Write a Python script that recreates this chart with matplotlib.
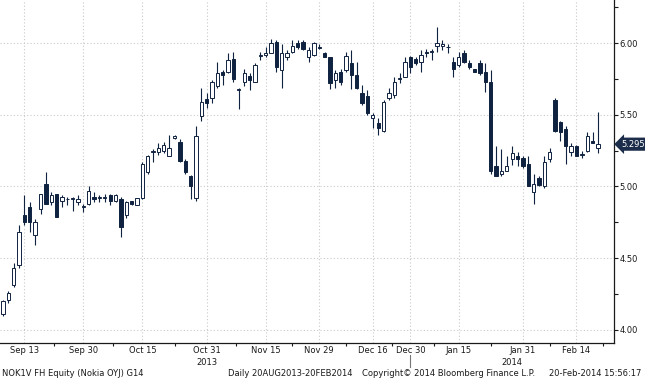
import matplotlib
matplotlib.use("Agg")
import matplotlib.pyplot as plt
import matplotlib.transforms as mtransforms
import numpy as np
import pandas as pd

# Daily OHLC, NOK1V FH, 09-Sep-2013 .. 20-Feb-2014 (Helsinki trading days)
opens = [4.11, 4.21, 4.31, 4.45, 4.80, 4.86, 4.66, 4.84, 5.02, 4.89,
         4.95, 4.90, 4.91, 4.91, 4.89, 4.86, 4.88, 4.93, 4.92, 4.92,
         4.94, 4.90, 4.91, 4.80, 4.90, 4.87, 4.92, 5.10, 5.24, 5.24,
         5.25, 5.21, 5.34, 5.31, 5.18, 5.07, 4.92, 5.49, 5.61, 5.62,
         5.70, 5.80, 5.80, 5.89, 5.67, 5.73, 5.77, 5.73, 5.91, 5.92,
         5.93, 6.01, 5.81, 5.90, 5.94, 6.00, 6.01, 5.90, 5.92, 5.975,
         5.93, 5.90, 5.74, 5.80, 5.81, 5.86, 5.78, 5.65, 5.63, 5.48,
         5.44, 5.39, 5.62, 5.64, 5.75, 5.76, 5.90, 5.89, 5.87, 5.94,
         5.94, 5.98, 5.98, 5.97, 5.87, 5.85, 5.93, 5.86, 5.82, 5.86,
         5.80, 5.73, 5.14, 5.09, 5.11, 5.19, 5.21, 5.20, 5.16, 4.96,
         5.06, 5.00, 5.19, 5.60, 5.45, 5.40, 5.24, 5.28, 5.22, 5.25,
         5.32, 5.27]
highs = [4.21, 4.27, 4.47, 4.73, 4.94, 4.89, 4.77, 4.95, 5.10, 4.96,
         4.95, 4.94, 4.93, 4.93, 4.94, 4.88, 5.00, 4.96, 4.94, 4.95,
         4.95, 4.95, 4.93, 4.90, 4.90, 4.92, 5.17, 5.22, 5.26, 5.30,
         5.31, 5.36, 5.36, 5.33, 5.19, 5.08, 5.42, 5.69, 5.65, 5.74,
         5.87, 5.81, 5.93, 5.94, 5.69, 5.82, 5.79, 5.86, 5.94, 5.97,
         6.03, 6.02, 5.99, 5.95, 6.02, 6.02, 6.02, 5.97, 6.01, 5.99,
         5.94, 5.90, 5.81, 5.82, 5.94, 5.95, 5.87, 5.71, 5.67, 5.51,
         5.48, 5.60, 5.69, 5.76, 5.79, 5.90, 5.91, 5.90, 5.95, 5.96,
         5.96, 6.11, 6.02, 5.99, 5.90, 5.94, 5.95, 5.88, 5.82, 5.88,
         5.86, 5.81, 5.28, 5.26, 5.21, 5.28, 5.24, 5.21, 5.21, 5.09,
         5.07, 5.21, 5.27, 5.62, 5.46, 5.42, 5.30, 5.29, 5.25, 5.38,
         5.38, 5.52]
lows = [4.10, 4.19, 4.30, 4.43, 4.73, 4.68, 4.59, 4.81, 4.88, 4.87,
        4.79, 4.86, 4.87, 4.83, 4.87, 4.82, 4.87, 4.89, 4.89, 4.89,
        4.87, 4.89, 4.65, 4.78, 4.87, 4.87, 4.91, 5.09, 5.17, 5.22,
        5.23, 5.21, 5.33, 5.17, 5.09, 4.91, 4.90, 5.46, 5.55, 5.58,
        5.69, 5.71, 5.79, 5.73, 5.54, 5.70, 5.67, 5.73, 5.88, 5.90,
        5.93, 5.80, 5.69, 5.88, 5.93, 5.96, 5.95, 5.87, 5.91, 5.96,
        5.90, 5.68, 5.69, 5.71, 5.80, 5.68, 5.68, 5.57, 5.50, 5.41,
        5.36, 5.38, 5.60, 5.62, 5.72, 5.76, 5.79, 5.85, 5.80, 5.90,
        5.88, 5.94, 5.95, 5.93, 5.76, 5.83, 5.86, 5.82, 5.80, 5.78,
        5.66, 5.09, 5.07, 5.07, 5.12, 5.15, 5.14, 5.13, 5.00, 4.88,
        5.00, 4.99, 5.17, 5.38, 5.32, 5.16, 5.21, 5.21, 5.20, 5.24,
        5.30, 5.23]
closes = [4.20, 4.26, 4.43, 4.68, 4.75, 4.75, 4.75, 4.95, 4.88, 4.94,
          4.79, 4.93, 4.91, 4.92, 4.91, 4.86, 4.97, 4.91, 4.92, 4.93,
          4.90, 4.94, 4.72, 4.89, 4.88, 4.92, 5.16, 5.21, 5.25, 5.27,
          5.29, 5.27, 5.35, 5.18, 5.10, 5.00, 5.35, 5.59, 5.58, 5.73,
          5.79, 5.78, 5.88, 5.75, 5.68, 5.79, 5.74, 5.85, 5.92, 5.93,
          6.00, 5.83, 5.93, 5.93, 5.98, 5.97, 5.96, 5.95, 6.00, 5.965,
          5.90, 5.72, 5.79, 5.73, 5.91, 5.78, 5.69, 5.58, 5.51, 5.50,
          5.41, 5.59, 5.65, 5.73, 5.75, 5.87, 5.83, 5.86, 5.92, 5.93,
          5.94, 6.00, 5.995, 5.97, 5.82, 5.90, 5.87, 5.83, 5.80, 5.79,
          5.73, 5.11, 5.07, 5.11, 5.14, 5.23, 5.19, 5.14, 5.00, 5.02,
          5.01, 5.17, 5.24, 5.39, 5.38, 5.28, 5.28, 5.21, 5.22, 5.35,
          5.30, 5.295]

holidays = ["2013-12-06", "2013-12-24", "2013-12-25", "2013-12-26",
            "2013-12-31", "2014-01-01", "2014-01-06"]
label_dates = ["2013-09-13", "2013-09-30", "2013-10-15", "2013-10-31",
               "2013-11-15", "2013-11-29", "2013-12-16", "2013-12-30",
               "2014-01-15", "2014-01-31", "2014-02-14"]

dates = pd.bdate_range("2013-09-09", "2014-02-20")
dates = dates[~dates.isin(pd.to_datetime(holidays))]

df = pd.DataFrame({"open": opens, "high": highs, "low": lows, "close": closes},
                  index=dates)

DARK = "#0f2240"
GRID = "#c9c9c9"
TXT = "#1a1a1a"

plt.rcParams["font.family"] = ["DejaVu Sans"]

fig = plt.figure(figsize=(6.45, 3.80), dpi=100)
ax = fig.add_axes([0.0, 37 / 380, 614 / 645, 343 / 380])

x = np.arange(len(df))
up = (df["close"] >= df["open"]).values
body_lo = np.minimum(df["open"], df["close"]).values
body_h = np.maximum(np.abs(df["close"] - df["open"]).values, 0.004)

ax.vlines(x, df["low"], df["high"], color=DARK, linewidth=0.8, zorder=2)
ax.bar(x[up], body_h[up], bottom=body_lo[up], width=0.62,
       facecolor="white", edgecolor=DARK, linewidth=0.7, zorder=3)
ax.bar(x[~up], body_h[~up], bottom=body_lo[~up], width=0.62,
       facecolor=DARK, edgecolor=DARK, linewidth=0.7, zorder=3)

ax.set_xlim(-0.56, 114.0)
ax.set_ylim(3.909, 6.30)

# y axis on the right
ax.yaxis.tick_right()
ax.set_yticks(np.arange(4.0, 6.01, 0.5))
ax.set_yticks(np.arange(4.25, 6.3, 0.5), minor=True)
ax.set_yticklabels([f"{v:.2f}" for v in np.arange(4.0, 6.01, 0.5)])
ax.tick_params(axis="y", which="major", direction="out", length=3, width=0.8,
               color=TXT, labelsize=6, labelcolor=TXT, pad=1)
ax.tick_params(axis="y", which="minor", direction="out", length=3, width=0.8,
               color=TXT)

# x axis: labels at chosen dates, small ticks between them
lab_pos = [int(np.where(dates == pd.Timestamp(d))[0][0]) for d in label_dates]
ax.set_xticks(lab_pos)
ax.set_xticklabels([pd.Timestamp(d).strftime("%b %d") for d in label_dates])
mids = [(a + b) / 2 for a, b in zip(lab_pos[:-1], lab_pos[1:])] + [lab_pos[-1] + 5]
ax.set_xticks(mids, minor=True)
ax.tick_params(axis="x", which="major", length=0, labelsize=6, labelcolor=TXT, pad=2)
ax.tick_params(axis="x", which="minor", direction="out", length=2.5, width=0.8,
               color=TXT)

ax.grid(True, which="major", color=GRID, linestyle=(0, (1, 2)), linewidth=0.8)
ax.set_axisbelow(True)

for side in ["left", "top"]:
    ax.spines[side].set_visible(False)
for side in ["right", "bottom"]:
    ax.spines[side].set_color(TXT)
    ax.spines[side].set_linewidth(0.9)

# year labels and separator
xt = ax.get_xaxis_transform()
ax.text(lab_pos[3], -0.056, "2013", transform=xt, ha="center", va="center",
        fontsize=6, color=TXT)
ax.text(95, -0.056, "2014", transform=xt, ha="center", va="center",
        fontsize=6, color=TXT)
ax.plot([lab_pos[7], lab_pos[7]], [-0.035, -0.07], transform=xt, color="#777777",
        linewidth=0.8, clip_on=False)

# last price tag
last = df["close"].iloc[-1]
yt = mtransforms.blended_transform_factory(ax.transAxes, ax.transData)
ax.text(1.012, last, f"{last:.3f}", transform=yt, ha="left", va="center",
        fontsize=6, color="white",
        bbox=dict(boxstyle="larrow,pad=0.25", facecolor="#1b2d4a", edgecolor="none"))

# footer
fy = 7 / 380
fig.text(2 / 645, fy, "NOK1V FH Equity (Nokia OYJ) G14", fontsize=6, color=TXT, va="center")
fig.text(228 / 645, fy, "Daily 20AUG2013-20FEB2014", fontsize=6, color=TXT, va="center")
fig.text(362 / 645, fy, "Copyright\u00a9 2014 Bloomberg Finance L.P.", fontsize=6,
         color=TXT, va="center")
fig.text(641 / 645, fy, "20-Feb-2014 15:56:17", fontsize=6, color=TXT, va="center",
         ha="right")

fig.savefig("out.png", dpi=100)
